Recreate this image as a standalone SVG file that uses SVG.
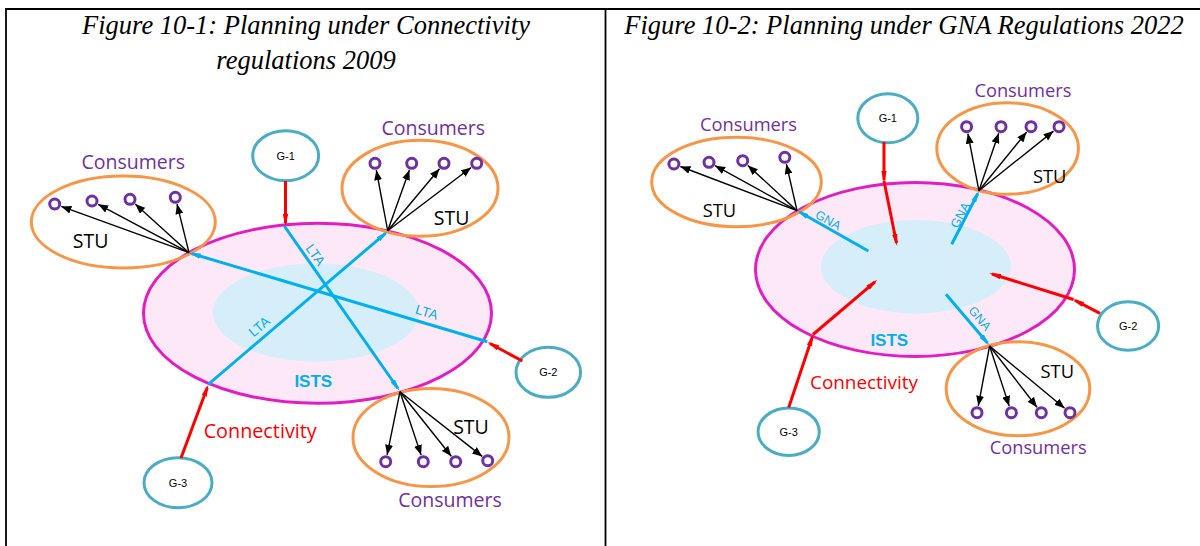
<svg xmlns="http://www.w3.org/2000/svg" width="1200" height="546" viewBox="0 0 1200 546">
<style>
.title{font-family:"Liberation Serif","Times New Roman",serif;font-style:italic;font-size:26.5px;fill:#000;text-anchor:middle}
.cons{font-family:"Open Sans","Noto Sans",sans-serif;fill:#7030A0;text-anchor:middle}
.stu{font-family:"Open Sans","Noto Sans",sans-serif;fill:#000;text-anchor:middle}
.conn{font-family:"Open Sans","Noto Sans",sans-serif;fill:#FF0000;text-anchor:middle}
.ists{font-family:"Liberation Sans",Arial,sans-serif;font-weight:bold;font-size:17px;fill:#00B0F0;text-anchor:middle}
.glab{font-family:"Liberation Sans",Arial,sans-serif;font-size:11px;fill:#000;text-anchor:middle}
.flow{font-family:"Liberation Sans",Arial,sans-serif;font-size:13.5px;fill:#00B0F0;text-anchor:middle}
.outer{fill:#FDE8F7;stroke:#E11DC3;stroke-width:3}
.inner{fill:#D6EEF9;stroke:none}
.stuE{fill:none;stroke:#F79646;stroke-width:3}
.gen{fill:#fff;stroke:#4BACC6;stroke-width:3}
.dot{fill:none;stroke:#7030A0;stroke-width:3}
.blk{stroke:#000;stroke-width:1.4;fill:none;marker-end:url(#ab)}
.blu{stroke:#00B0F0;stroke-width:3;fill:none;marker-end:url(#au)}
.red{stroke:#FF0000;stroke-width:3;fill:none;marker-end:url(#ar)}
.frame{stroke:#000;stroke-width:1.8;fill:none}
</style>
<defs>
<marker id="ab" markerWidth="10" markerHeight="8" refX="10" refY="4" orient="auto" markerUnits="userSpaceOnUse"><path d="M0,0 L10,4 L0,8 z" fill="#000"/></marker>
<marker id="au" markerWidth="12" markerHeight="6" refX="9" refY="3" orient="auto" markerUnits="userSpaceOnUse"><path d="M0,0.3 L12,3 L0,5.7 z" fill="#00B0F0"/></marker>
<marker id="ar" markerWidth="12" markerHeight="6" refX="9" refY="3" orient="auto" markerUnits="userSpaceOnUse"><path d="M0,0.3 L12,3 L0,5.7 z" fill="#FF0000"/></marker>
</defs>
<rect width="1200" height="546" fill="#fff"/>
<g id="frame">
<line class="frame" x1="5" y1="9" x2="1200" y2="9"/>
<line class="frame" x1="6" y1="9" x2="6" y2="546"/>
<line class="frame" x1="605.5" y1="9" x2="605.5" y2="546"/>
</g>
<g id="title-left">
<text class="title" x="306" y="33.5">Figure 10-1: Planning under Connectivity</text>
<text class="title" x="306" y="68.5">regulations 2009</text>
</g>
<g id="title-right">
<text class="title" x="904" y="33.5">Figure 10-2: Planning under GNA Regulations 2022</text>
</g>

<!-- LEFT FIGURE -->
<g id="ists-left">
<ellipse class="outer" cx="317.5" cy="313.3" rx="174" ry="90"/>
<ellipse class="inner" cx="316" cy="312.5" rx="103" ry="49"/>
<text class="ists" x="313.3" y="387">ISTS</text>
</g>
<g id="stu-left-1">
<ellipse class="stuE" cx="123.3" cy="222" rx="92" ry="46"/>
<text class="stu" style="font-size:19.5px" x="90.7" y="248.3">STU</text>
<text class="cons" style="font-size:19.5px" x="133.3" y="169.3">Consumers</text>
<circle class="dot" cx="54.7" cy="204" r="5"/>
<circle class="dot" cx="92" cy="201" r="5"/>
<circle class="dot" cx="130" cy="199.3" r="5"/>
<circle class="dot" cx="175.3" cy="197.3" r="5"/>
</g>
<g id="stu-left-2">
<ellipse class="stuE" cx="420" cy="188.3" rx="78" ry="48"/>
<text class="stu" style="font-size:19.5px" x="451.7" y="225">STU</text>
<text class="cons" style="font-size:19.5px" x="433.3" y="135">Consumers</text>
<circle class="dot" cx="375" cy="163.3" r="5"/>
<circle class="dot" cx="411.7" cy="163.3" r="5"/>
<circle class="dot" cx="444" cy="163.3" r="5"/>
<circle class="dot" cx="476.7" cy="163.3" r="5"/>
</g>
<g id="stu-left-3">
<ellipse class="stuE" cx="431" cy="437.5" rx="78" ry="49"/>
<text class="stu" style="font-size:19.5px" x="471" y="434">STU</text>
<text class="cons" style="font-size:19.5px" x="450" y="506.5">Consumers</text>
<circle class="dot" cx="385.7" cy="461.7" r="5"/>
<circle class="dot" cx="423.3" cy="461.7" r="5"/>
<circle class="dot" cx="455.7" cy="461.7" r="5"/>
<circle class="dot" cx="487.7" cy="460.7" r="5"/>
</g>
<g id="g1-left">
<ellipse class="gen" cx="285.7" cy="155.7" rx="33" ry="25"/>
<text class="glab" x="285.7" y="159.5">G-1</text>
</g>
<g id="g2-left">
<ellipse class="gen" cx="548.3" cy="372.3" rx="32.3" ry="25"/>
<text class="glab" x="548.3" y="376.2">G-2</text>
</g>
<g id="g3-left">
<ellipse class="gen" cx="178" cy="482.7" rx="34" ry="25"/>
<text class="glab" x="178" y="486.6">G-3</text>
</g>

<!-- RIGHT FIGURE -->
<g id="ists-right">
<ellipse class="outer" cx="915" cy="269.5" rx="159.5" ry="87"/>
<ellipse class="inner" cx="916" cy="266.7" rx="95" ry="46.7"/>
<text class="ists" x="889.3" y="346">ISTS</text>
</g>
<g id="stu-right-1">
<ellipse class="stuE" cx="736.5" cy="182" rx="84.8" ry="44.7"/>
<text class="stu" style="font-size:18.3px" x="719.4" y="216.7">STU</text>
<text class="cons" style="font-size:18.3px" x="748.5" y="131">Consumers</text>
<circle class="dot" cx="673.9" cy="164" r="5"/>
<circle class="dot" cx="709" cy="162.3" r="5"/>
<circle class="dot" cx="742.7" cy="160.7" r="5"/>
<circle class="dot" cx="784.8" cy="157.3" r="5"/>
</g>
<g id="stu-right-2">
<ellipse class="stuE" cx="1007.6" cy="148.5" rx="70.8" ry="45.8"/>
<text class="stu" style="font-size:18.3px" x="1049.7" y="183.3">STU</text>
<text class="cons" style="font-size:18.3px" x="1022.9" y="97.3">Consumers</text>
<circle class="dot" cx="966.6" cy="126.7" r="5"/>
<circle class="dot" cx="1001" cy="126.7" r="5"/>
<circle class="dot" cx="1031" cy="126.7" r="5"/>
<circle class="dot" cx="1059" cy="126.7" r="5"/>
</g>
<g id="stu-right-3">
<ellipse class="stuE" cx="1018" cy="388.7" rx="71.8" ry="47"/>
<text class="stu" style="font-size:18.3px" x="1057.3" y="378.3">STU</text>
<text class="cons" style="font-size:18.3px" x="1038.2" y="454.3">Consumers</text>
<circle class="dot" cx="977" cy="412.7" r="5"/>
<circle class="dot" cx="1011.4" cy="412.7" r="5"/>
<circle class="dot" cx="1041.3" cy="412.7" r="5"/>
<circle class="dot" cx="1070" cy="412.7" r="5"/>
</g>
<g id="g1-right">
<ellipse class="gen" cx="887.8" cy="118.3" rx="30" ry="24.5"/>
<text class="glab" x="887.8" y="122.2">G-1</text>
</g>
<g id="g2-right">
<ellipse class="gen" cx="1128.1" cy="326" rx="30.6" ry="24.2"/>
<text class="glab" x="1128.1" y="329.9">G-2</text>
</g>
<g id="g3-right">
<ellipse class="gen" cx="788.7" cy="431.7" rx="30.6" ry="23.7"/>
<text class="glab" x="788.7" y="435.6">G-3</text>
</g>

<g id="connectors">
<!-- left figure: STU to consumers -->
<line class="blk" x1="189" y1="252.7" x2="61.3" y2="206.4"/>
<line class="blk" x1="189" y1="252.7" x2="98.2" y2="204.3"/>
<line class="blk" x1="189" y1="252.7" x2="135.2" y2="204"/>
<line class="blk" x1="189" y1="252.7" x2="177" y2="204.1"/>
<line class="blk" x1="387.7" y1="230.7" x2="376.3" y2="170.2"/>
<line class="blk" x1="387.7" y1="230.7" x2="409.4" y2="169.9"/>
<line class="blk" x1="387.7" y1="230.7" x2="439.5" y2="168.7"/>
<line class="blk" x1="387.7" y1="230.7" x2="471.1" y2="167.5"/>
<line class="blk" x1="400" y1="391.7" x2="387.1" y2="454.8"/>
<line class="blk" x1="400" y1="391.7" x2="421.1" y2="455.1"/>
<line class="blk" x1="400" y1="391.7" x2="451.3" y2="456.2"/>
<line class="blk" x1="400" y1="391.7" x2="482.2" y2="456.4"/>
<!-- left figure: LTA -->
<line class="blu" x1="284.3" y1="226" x2="398" y2="388.5"/>
<line class="blu" x1="208.3" y1="384.3" x2="385.5" y2="233.3"/>
<line class="blu" x1="487.3" y1="341.7" x2="191.5" y2="253.5"/>
<!-- left figure: connectivity -->
<line class="red" x1="285.5" y1="181" x2="285.5" y2="223"/>
<line class="red" x1="522.3" y1="361" x2="490" y2="343.5"/>
<line class="red" x1="181" y1="458" x2="207.3" y2="387.5"/>
<!-- right figure: STU to consumers -->
<line class="blk" x1="797" y1="210.7" x2="680.4" y2="166.5"/>
<line class="blk" x1="797" y1="210.7" x2="715.1" y2="165.7"/>
<line class="blk" x1="797" y1="210.7" x2="747.9" y2="165.4"/>
<line class="blk" x1="797" y1="210.7" x2="786.4" y2="164.1"/>
<line class="blk" x1="978.9" y1="190.7" x2="967.9" y2="133.6"/>
<line class="blk" x1="978.9" y1="190.7" x2="998.7" y2="133.3"/>
<line class="blk" x1="978.9" y1="190.7" x2="1026.6" y2="132.1"/>
<line class="blk" x1="978.9" y1="190.7" x2="1053.5" y2="131.1"/>
<line class="blk" x1="989.6" y1="346" x2="978.3" y2="405.8"/>
<line class="blk" x1="989.6" y1="346" x2="1009.2" y2="406.1"/>
<line class="blk" x1="989.6" y1="346" x2="1037" y2="407.2"/>
<line class="blk" x1="989.6" y1="346" x2="1064.6" y2="408.2"/>
<!-- right figure: GNA -->
<line class="blu" x1="868.3" y1="251" x2="799.5" y2="212"/>
<line class="blu" x1="951.7" y1="244.3" x2="977.8" y2="193.5"/>
<line class="blu" x1="946" y1="294.3" x2="987.5" y2="343"/>
<!-- right figure: connectivity -->
<line class="red" x1="884" y1="142" x2="884" y2="180"/>
<line class="red" x1="884" y1="181" x2="896.5" y2="243"/>
<line class="red" x1="1100" y1="313.3" x2="1075" y2="300.3"/>
<line class="red" x1="1073.5" y1="299.5" x2="992" y2="274"/>
<line class="red" x1="788.7" y1="407.5" x2="812.3" y2="337"/>
<line class="red" x1="813" y1="334.5" x2="875" y2="281.8"/>
</g>

<g id="flow-labels">
<text class="flow" transform="translate(315.3,255) rotate(55)" x="0" y="4.5">LTA</text>
<text class="flow" transform="translate(259.3,326.7) rotate(-40)" x="0" y="4.5">LTA</text>
<text class="flow" transform="translate(426.7,312.3) rotate(17)" x="0" y="4.5">LTA</text>
<text class="flow" style="font-size:12.5px" transform="translate(828.3,220) rotate(29)" x="0" y="4.5">GNA</text>
<text class="flow" style="font-size:12.5px" transform="translate(960,215) rotate(-62)" x="0" y="4.5">GNA</text>
<text class="flow" style="font-size:12.5px" transform="translate(980,318.3) rotate(50)" x="0" y="4.5">GNA</text>
<text class="conn" style="font-size:19.8px" x="260.2" y="438.3">Connectivity</text>
<text class="conn" style="font-size:18.9px" x="864" y="389.3">Connectivity</text>
</g>
</svg>
